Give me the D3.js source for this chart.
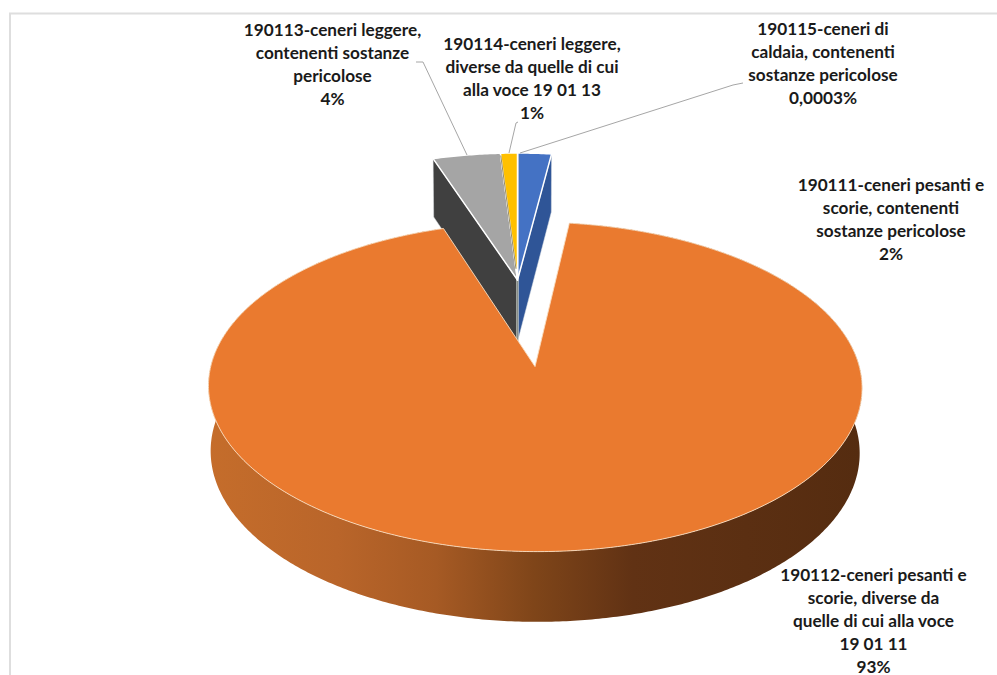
<!DOCTYPE html>
<html><head><meta charset="utf-8">
<script src="https://cdn.jsdelivr.net/npm/d3@7/dist/d3.min.js"></script>
<style>html,body{margin:0;padding:0;background:#fff}svg{display:block}</style>
</head><body><svg id="c" width="997" height="675"></svg>
<script>
// ---- data ----
const categories = [
  "190111-ceneri pesanti e scorie, contenenti sostanze pericolose",
  "190112-ceneri pesanti e scorie, diverse da quelle di cui alla voce 19 01 11",
  "190113-ceneri leggere, contenenti sostanze pericolose",
  "190114-ceneri leggere, diverse da quelle di cui alla voce 19 01 13",
  "190115-ceneri di caldaia, contenenti sostanze pericolose"
];
const values = [2, 93, 4, 1, 0.0003];
const percentLabels = ["2%", "93%", "4%", "1%", "0,0003%"];
const labelLines = [
  ["190111-ceneri pesanti e", "scorie, contenenti", "sostanze pericolose"],
  ["190112-ceneri pesanti e", "scorie, diverse da", "quelle di cui alla voce", "19 01 11"],
  ["190113-ceneri leggere,", "contenenti sostanze", "pericolose"],
  ["190114-ceneri leggere,", "diverse da quelle di cui", "alla voce 19 01 13"],
  ["190115-ceneri di", "caldaia, contenenti", "sostanze pericolose"]
];
const topColors = ["#4472c4", "#ea7a2f", "#a5a5a5", "#ffc000", "#4472c4"];
const sideColors = ["#2f5597", "#8a4a1a", "#404040", "#b38600", "#2f5597"];
// ---- layout ----
const labelAnchors = [[891, 191], [873.5, 580.5], [332.5, 36], [532, 50], [823, 35]];
const lineStep = 23;
const exploded = [0, 0.574, 0, 0, 0];
const leaders = [
  null, null,
  [[416, 62], [423, 62], [467, 155]],
  [[518, 122], [516, 123], [509, 153]],
  [[743, 83], [733, 85], [520, 153]]
];
const cam = {x0: 517.5, y0: 280, a: 303, b: 141.6, k: 0.115, h: 62, convX: 0.007, convY: 0.02};

const svg = d3.select("#c");
// frame
svg.append("path").attr("d", "M10,675V13.5H997").attr("fill", "none").attr("stroke", "#dedede").attr("stroke-width", 2);

const defs = svg.append("defs");
const grad = defs.append("linearGradient").attr("id", "wall").attr("gradientUnits", "userSpaceOnUse")
  .attr("x1", 207).attr("x2", 861).attr("y1", 0).attr("y2", 0);
[[0, "#c56d2b"], [0.2, "#b9652a"], [0.35, "#a65a24"], [0.5, "#7f4519"], [0.65, "#613214"], [1, "#552c10"]]
  .forEach(s => grad.append("stop").attr("offset", s[0]).attr("stop-color", s[1]));

const pie = d3.pie().sort(null).value(d => d)(values);
const line = d3.line();

function project(s, t, r, z) {
  const m = (s.startAngle + s.endAngle) / 2, d = exploded[s.index];
  const u = d * Math.sin(m) + r * Math.sin(t), v = -d * Math.cos(m) - r * Math.cos(t);
  const w = 1 - cam.k * v;
  return [cam.x0 + (1 - cam.convX * z) * cam.a * u / w,
          cam.y0 + (1 - cam.convY * z) * cam.b * v / w + z * cam.h / w];
}
function rim(s, z) {
  const n = Math.max(2, Math.ceil((s.endAngle - s.startAngle) / 0.01));
  return d3.range(n + 1).map(i => project(s, s.startAngle + (s.endAngle - s.startAngle) * i / n, 1, z));
}
const bySlice = i => pie.find(p => p.index === i);
const g = svg.append("g");

function radialWall(i, t, fill, stroke, sw) {
  const s = bySlice(i);
  const pts = [project(s, t, 0, 0), project(s, t, 1, 0), project(s, t, 1, 1), project(s, t, 0, 1)];
  g.append("path").attr("d", line(pts) + "Z").attr("fill", fill).attr("stroke", stroke).attr("stroke-width", sw);
}
// visible radial walls of the small wedges: left of the grey one, right of the blue one
radialWall(2, bySlice(2).startAngle, sideColors[2], "#dfe3e6", 0.5);
radialWall(0, bySlice(0).endAngle, sideColors[0], "#dfe3e6", 0.5);
// the thin upright edge at the shared centre
const cs = bySlice(3);
g.append("path").attr("d", line([project(cs, 0, 0, 0), project(cs, 0, 0, 1)])).attr("stroke", "#c9cfc8").attr("stroke-width", 2.4);
g.append("path").attr("d", line([project(cs, 0, 0, 0), project(cs, 0, 0, 1)])).attr("stroke", "#7a7f78").attr("stroke-width", 0.8);

[2, 0, 4, 3].forEach(i => {
  const s = bySlice(i);
  const face = [project(s, 0, 0, 0)].concat(rim(s, 0));
  g.append("path").attr("d", line(face) + "Z").attr("fill", topColors[i]).attr("stroke", "#fff").attr("stroke-width", 1.5).attr("stroke-linejoin", "round");
});
// dark hairline along the grey/yellow boundary
const gy = bySlice(3);
g.append("path").attr("d", line([project(gy, gy.startAngle, 0.08, 0), project(gy, gy.startAngle, 0.98, 0)])).attr("stroke", "#6b5a20").attr("stroke-width", 0.7);

// big slice
const big = bySlice(1);
g.append("path").attr("d", line(rim(big, 0).concat(rim(big, 1).reverse())) + "Z").attr("fill", "url(#wall)");
g.append("path").attr("d", line([project(big, 0, 0, 0)].concat(rim(big, 0))) + "Z")
  .attr("fill", topColors[1]).attr("stroke", "#f8dcc0").attr("stroke-width", 0.9).attr("stroke-linejoin", "round");

leaders.forEach(pts => {
  if (pts) svg.append("path").attr("d", line(pts)).attr("fill", "none").attr("stroke", "#a6a6a6").attr("stroke-width", 1);
});

// labels
labelLines.forEach((lines, i) => {
  const t = svg.append("text").attr("x", labelAnchors[i][0]).attr("y", labelAnchors[i][1])
    .attr("text-anchor", "middle").attr("font-family", "Lato, 'Open Sans', sans-serif")
    .attr("font-weight", 700).attr("font-size", 17.2).attr("fill", "#1a1a1a");
  lines.concat(percentLabels[i]).forEach((l, j) => {
    t.append("tspan").attr("x", labelAnchors[i][0]).attr("dy", j ? lineStep : 0).text(l);
  });
});
</script></body></html>
